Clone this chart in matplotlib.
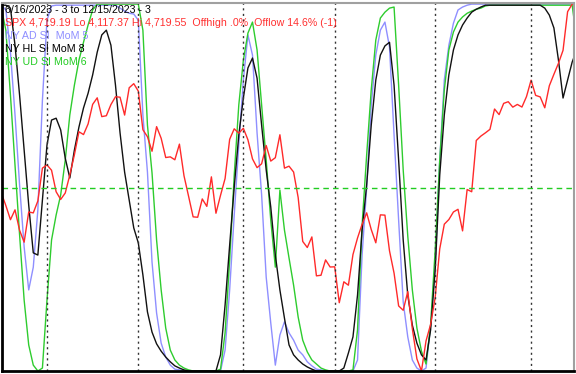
import matplotlib
matplotlib.use("Agg")
import matplotlib.pyplot as plt
import numpy as np

# SPX daily closes 6/16/2023 - 12/15/2023
spx = [4409.59, 4388.71, 4365.69, 4381.89, 4348.33, 4328.82, 4378.41, 4376.86, 4396.44, 4450.38,
       4455.59, 4446.82, 4411.59, 4398.95, 4409.53, 4439.26, 4472.16, 4510.04, 4505.42, 4522.79,
       4554.98, 4565.72, 4534.87, 4536.34, 4554.64, 4567.46, 4566.75, 4537.41, 4582.23, 4588.96,
       4576.73, 4513.39, 4501.89, 4478.03, 4518.44, 4499.38, 4467.71, 4468.83, 4464.05, 4489.72,
       4437.86, 4404.33, 4370.36, 4369.71, 4399.77, 4387.55, 4436.01, 4376.31, 4405.71, 4433.31,
       4497.63, 4514.87, 4507.66,
       4515.77, 4496.83, 4465.48, 4451.14, 4457.49, 4487.46, 4461.90, 4467.44, 4505.10, 4450.32,
       4453.53, 4443.95, 4402.20, 4330.00, 4320.06, 4337.44, 4273.53, 4274.51, 4299.70, 4288.05,
       4288.39, 4229.45, 4263.75, 4258.19, 4308.50, 4335.66, 4358.24, 4376.95, 4349.61, 4327.78,
       4373.63, 4373.20, 4314.60, 4278.00, 4224.16, 4217.04, 4247.68, 4186.77, 4137.23, 4117.37,
       4166.82, 4193.80,
       4237.86, 4317.78, 4358.34, 4365.98, 4378.38, 4382.78, 4347.35, 4415.24, 4411.55, 4495.70,
       4502.88, 4508.24, 4514.02, 4547.38, 4538.19, 4556.62, 4559.34, 4550.43, 4554.89, 4550.58,
       4567.80,
       4594.63, 4569.78, 4567.18, 4549.34, 4585.59, 4604.37, 4622.44, 4643.70, 4707.09, 4719.55,
       4719.19]

# NY AD SI MoM 5 (0-100)
ad_mom = ([99.7, 98.4, 86.9, 69.8, 50.7, 33.8, 22.1, 28.3, 43.9, 73.8, 95.6, 99.5]
          + [99.7] * 14
          + [98.9, 98.1, 97.5, 97.3, 95.6, 69.8, 54.2, 29.7, 15.8, 7.6, 3.8, 1.6, 0.5, 0.3]
          + [0.0] * 9
          + [5.7, 22.1, 42.5, 61.6, 79.3, 91.6, 86.1, 64.9, 48.0, 25.6, 13.1,
             1.6, 9.8, 13.4, 10.4, 8.4, 5.7, 4.4, 2.5, 1.4, 0.5, 0.3]
          + [0.0] * 7
          + [3.0, 31.6, 49.9, 72.5, 86.1, 92.9, 95.1, 88.3, 64.3, 41.1, 18.8, 9.3,
             3.0, 0.8, 0.0, 0.8, 12.5, 28.9, 57.5, 79.3, 88.8, 94.8, 98.4, 99.2, 99.7]
          + [100.0] * 24)

# NY HL SI MoM 8
hl_mom = ([99.7, 99.7, 98.9, 88.8, 75.2, 60.2, 45.2, 32.2, 31.6, 46.6,
           61.6, 68.4, 68.9, 65.7, 58.0, 52.6, 60.2, 66.5, 71.7, 75.7,
           80.7, 86.9, 91.6, 92.9, 88.8, 77.9, 64.9, 54.2, 46.6, 39.0,
           34.9, 26.2, 16.1, 10.6, 7.4, 5.4, 3.8, 2.5, 1.4, 0.8, 0.3]
          + [0.0] * 7
          + [4.4, 18.0, 34.3, 50.1, 64.3, 74.4, 82.6, 85.3, 79.8, 67.0, 54.8, 44.7,
             31.6, 22.1, 14.4, 7.1, 4.4, 3.0, 1.9, 1.1, 0.5]
          + [0.0] * 6
          + [0.8, 4.9, 9.3, 20.7, 38.4,
             50.7, 67.0, 79.3, 86.1, 88.6, 89.6, 77.9, 57.5, 35.7, 20.7,
             12.5, 7.6, 4.4, 3.0, 11.2, 27.5, 53.4, 69.8, 80.7, 87.5,
             91.6, 94.3, 96.2, 97.8, 98.6, 99.2]
          + [99.7] * 13
          + [98.9, 97.0, 93.5, 84.7, 74.4, 79.3, 84.2, 87.5])

# NY UD SI MoM 6
ud_mom = ([98.9, 92.9, 75.2, 56.1, 37.1, 19.3, 7.1, 1.6, 0.0, 0.8,
           19.3, 35.7, 42.5, 48.0, 57.5, 69.8, 77.9, 84.7, 89.6, 94.3, 98.4]
          + [100.0] * 10
          + [92.9, 67.0, 54.0, 35.7, 22.1, 11.7, 5.7, 3.0, 1.6, 0.8, 0.3]
          + [0.0] * 6
          + [0.5, 10.4, 30.2, 53.4, 72.5, 84.7, 92.1, 95.1, 87.5, 72.5, 57.5, 41.1,
             28.3, 49.3, 38.4, 30.8, 23.4, 14.7, 8.4, 5.2, 3.0, 1.9, 0.8, 0.3]
          + [0.0] * 5
          + [0.3, 11.2, 39.8, 58.9, 76.6, 90.2, 96.2, 97.8, 98.9, 99.2, 77.9, 54.8, 36.8,
             22.1, 11.7, 5.4, 1.9, 12.5, 32.9, 57.5, 76.6, 87.5, 92.4,
             95.1, 96.5, 97.5, 98.1, 98.6, 98.9, 99.5]
          + [99.7] * 19
          + [90.2])

month_starts = [10, 30, 53, 73, 95, 116]  # Jul 3, Aug 1, Sep 1, Oct 2, Nov 1, Dec 1

lo, hi = min(spx), max(spx)
spx_pct = (np.array(spx) - lo) / (hi - lo) * 100
days = np.arange(len(spx))

fig = plt.figure(figsize=(5.76, 3.74), dpi=100)
ax = fig.add_axes([2 / 576, 3 / 374, 572 / 576, 368 / 374])

ax.plot(days, ad_mom, color='#8f8fff', lw=1.0)
ax.plot(days, ud_mom, color='#2ecc2e', lw=1.0)
ax.plot(days, hl_mom, color='#111111', lw=1.0)
ax.plot(days, spx_pct, color='#ff2a2a', lw=1.0)

for m in month_starts:
    ax.axvline(m, color='#333333', lw=1.0, linestyle=(0, (1.5, 2.5)))
ax.axhline(50, color='#22cc22', lw=1.0, linestyle=(0, (4, 3)))

ax.set_xlim(0.15, 125.4)
ax.set_ylim(0, 100.3)
ax.set_xticks([])
ax.set_yticks([])
for side in ['left', 'bottom']:
    ax.spines[side].set_color('black')
    ax.spines[side].set_linewidth(2)
for side in ['top', 'right']:
    ax.spines[side].set_color('#a0a0a0')
    ax.spines[side].set_linewidth(1.5)

labels = [
    ("6/16/2023 - 3 to 12/15/2023 - 3", 'black'),
    ("SPX 4,719.19 Lo 4,117.37 Hi 4,719.55  Offhigh .0%  Offlow 14.6% (-1)", '#ff3030'),
    ("NY AD SI  MoM 5", '#8f8fff'),
    ("NY HL SI MoM 8", 'black'),
    ("NY UD SI MoM 6", '#22cc22'),
]
for k, (txt, col) in enumerate(labels):
    fig.text(5 / 576, 1 - (10 + 13 * k) / 374, txt, color=col, fontsize=7.7,
             family='Liberation Sans', va='center', ha='left')

fig.savefig('out.png', dpi=100)
